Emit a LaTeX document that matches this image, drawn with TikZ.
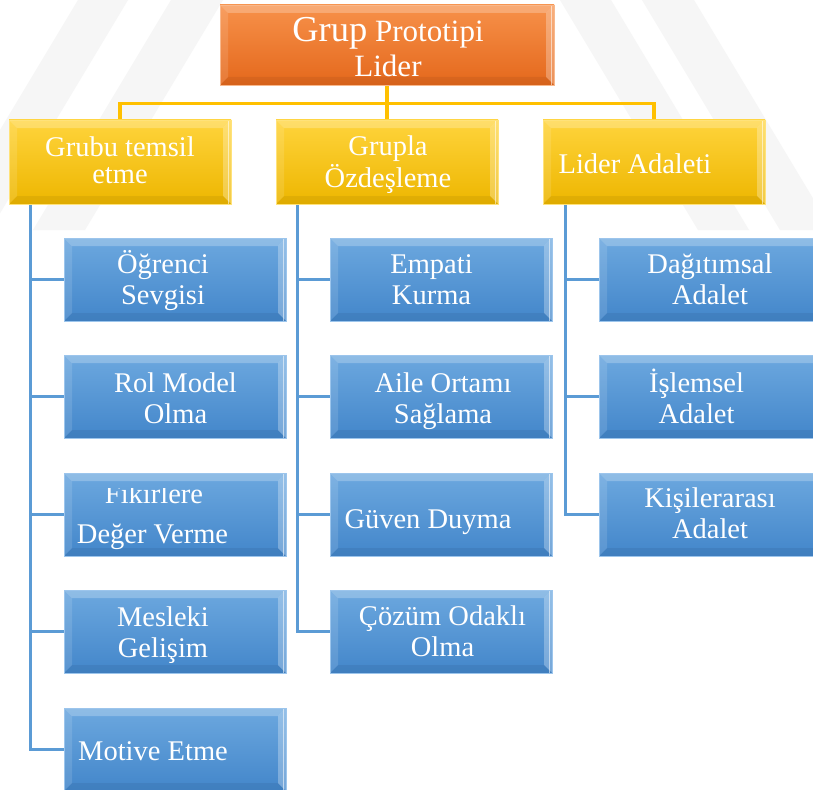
\documentclass[tikz,border=0pt]{standalone}
\usepackage{fontspec}
\setmainfont{Liberation Serif}
\usetikzlibrary{calc,backgrounds}
\definecolor{orT}{HTML}{F7914A}
\definecolor{orB}{HTML}{E4681C}
\definecolor{orE}{HTML}{F8B88C}
\definecolor{yeT}{HTML}{FFD43C}
\definecolor{yeB}{HTML}{EDB600}
\definecolor{yeE}{HTML}{FFE27A}
\definecolor{blT}{HTML}{6CA8DF}
\definecolor{blB}{HTML}{4386CA}
\definecolor{blE}{HTML}{9CC5EC}
\definecolor{busO}{HTML}{FFC000}
\definecolor{busB}{HTML}{5B9BD5}
\definecolor{wm}{HTML}{F6F6F6}
\newcommand\twol[2]{\begin{tabular}[t]{@{}c@{}}#1\\#2\end{tabular}}
\tikzset{
  bevel/.style={path picture={
    \fill[white,opacity=.24] (path picture bounding box.north west) -- (path picture bounding box.north east)
      -- ([shift={(-8pt,-8pt)}]path picture bounding box.north east) -- ([shift={(8pt,-8pt)}]path picture bounding box.north west) -- cycle;
    \fill[white,opacity=.12] (path picture bounding box.north west) -- (path picture bounding box.south west)
      -- ([shift={(8pt,8pt)}]path picture bounding box.south west) -- ([shift={(8pt,-8pt)}]path picture bounding box.north west) -- cycle;
    \fill[white,opacity=.28] (path picture bounding box.north east) -- (path picture bounding box.south east)
      -- ([shift={(-8pt,8pt)}]path picture bounding box.south east) -- ([shift={(-8pt,-8pt)}]path picture bounding box.north east) -- cycle;
    \fill[black,opacity=.06] (path picture bounding box.south west) -- (path picture bounding box.south east)
      -- ([shift={(-8pt,8pt)}]path picture bounding box.south east) -- ([shift={(8pt,8pt)}]path picture bounding box.south west) -- cycle;
    \draw[white,opacity=.55,line width=1.2pt] ([xshift=-2.5pt]path picture bounding box.north east) -- ([xshift=-2.5pt]path picture bounding box.south east);
  }},
  topbox/.style={rectangle,inner sep=0pt,minimum width=334pt,minimum height=80pt,top color=orT,bottom color=orB,draw=orE,line width=.8pt,bevel},
  yebox/.style={rectangle,inner sep=0pt,minimum width=222pt,minimum height=84pt,top color=yeT,bottom color=yeB,draw=yeE,line width=.8pt,bevel},
  blbox/.style={rectangle,inner sep=0pt,minimum width=222pt,minimum height=83pt,top color=blT,bottom color=blB,draw=blE,line width=.8pt,bevel},
  txt/.style={text=white,anchor=base,inner sep=0pt,font=\fontsize{28.5}{31.5}\selectfont},
  oline/.style={draw=busO,line width=3.3pt},
  bline/.style={draw=busB,line width=3pt},
}
\begin{document}
\begin{tikzpicture}[x=1pt,y=-1pt]
\clip (0,0) rectangle (813,789);

% boxes
\node[topbox] (top) at (387,45) {};
\node[yebox] (y1) at (120,162) {};
\node[yebox] (y2) at (387,162) {};
\node[yebox] (y3) at (654,162) {};

\node[blbox] (b11) at (175,279.5) {};
\node[blbox] (b12) at (175,396.5) {};
\node[blbox] (b13) at (175,514.5) {};
\node[blbox] (b14) at (175,631.5) {};
\node[blbox] (b15) at (175,749.5) {};
\node[blbox] (b21) at (441,279.5) {};
\node[blbox] (b22) at (441,396.5) {};
\node[blbox] (b23) at (441,514.5) {};
\node[blbox] (b24) at (441,631.5) {};
\node[blbox] (b31) at (710,279.5) {};
\node[blbox] (b32) at (710,396.5) {};
\node[blbox] (b33) at (710,514.5) {};

\begin{scope}[on background layer]
\fill[white] (0,0) rectangle (813,789);
% faint watermark bands
\fill[wm] (78,0) -- (128,0) -- (-10,230) -- (-60,230) -- cycle;
\fill[wm] (171,0) -- (223,0) -- (85,230) -- (33,230) -- cycle;
\fill[wm] (560,0) -- (611,0) -- (749,230) -- (698,230) -- cycle;
\fill[wm] (642,0) -- (694,0) -- (832,230) -- (780,230) -- cycle;
% connectors
\draw[oline] (top.south) -- ++(0,18) -| (y1.north);
\draw[oline] (top.south) -- ++(0,18) -| (y3.north);
\draw[oline] (top.south) -- (y2.north);
\foreach \b in {b11,b12,b13,b14,b15}{\draw[bline] ([xshift=22pt]y1.south west) |- (\b.west);}
\foreach \b in {b21,b22,b23,b24}{\draw[bline] ([xshift=22pt]y2.south west) |- (\b.west);}
\foreach \b in {b31,b32,b33}{\draw[bline] ([xshift=23pt]y3.south west) |- (\b.west);}
\end{scope}

% texts
\node[txt,font=\fontsize{31}{35}\selectfont] (t0) at (388,42) {\twol{{\fontsize{36.5}{35}\selectfont Grup} Prototipi}{Lider}};
\node[txt,font=\fontsize{28.5}{27}\selectfont] (ty1) at (120,156) {\twol{Grubu temsil}{etme}};
\node[txt,font=\fontsize{28.5}{32}\selectfont] (ty2) at (388,155) {\twol{Grupla}{Özdeşleme}};
\node[txt] (ty3) at (635,173) {Lider Adaleti};

\node[txt] (t11) at (163,273) {\twol{Öğrenci}{Sevgisi}};
\node[txt] (t12) at (175.5,392) {\twol{Rol Model}{Olma}};
\begin{scope}
\clip (64,488) rectangle (286,560);
\node[txt] (t13a) at (154,503) {Fikirlere};
\end{scope}
\node[txt] (t13b) at (152.5,543) {Değer Verme};
\node[txt] (t14) at (163,626) {\twol{Mesleki}{Gelişim}};
\node[txt] (t15) at (153,760) {Motive Etme};

\node[txt] (t21) at (431.5,273) {\twol{Empati}{Kurma}};
\node[txt] (t22) at (443,392) {\twol{Aile Ortamı}{Sağlama}};
\node[txt] (t23) at (428,528) {Güven Duyma};
\node[txt] (t24) at (442.5,625) {\twol{Çözüm Odaklı}{Olma}};

\node[txt] (t31) at (710,273) {\twol{Dağıtımsal}{Adalet}};
\node[txt] (t32) at (696.5,392) {\twol{İşlemsel}{Adalet}};
\node[txt] (t33) at (710,507) {\twol{Kişilerarası}{Adalet}};
\end{tikzpicture}
\end{document}
